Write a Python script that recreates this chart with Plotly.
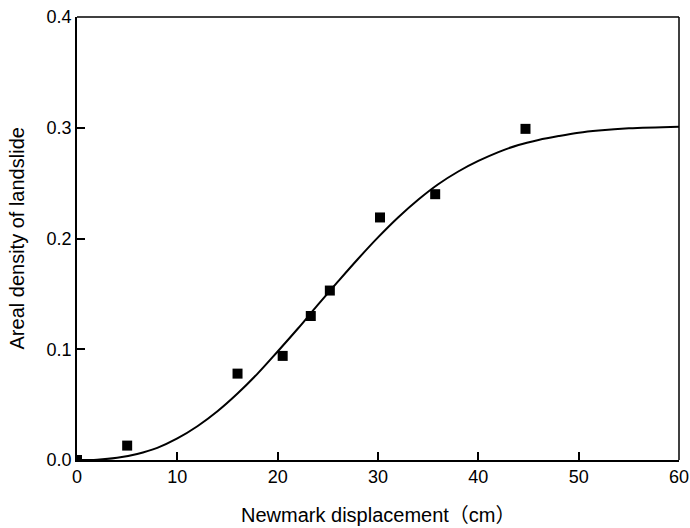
import plotly.graph_objects as go

# Observed data points
obs_x = [0, 5, 16, 20.5, 23.3, 25.2, 30.2, 35.7, 44.7]
obs_y = [0.0, 0.013, 0.078, 0.094, 0.130, 0.153, 0.219, 0.240, 0.299]

# Fitted curve
fit_x = [0, 2, 4, 6, 8, 10, 12, 14, 16, 18, 20, 22, 24, 26, 28, 30, 32, 34, 36, 38,
         40, 42, 44, 46, 48, 50, 52, 55, 60]
fit_y = [0.0, 0.0003, 0.002, 0.0055, 0.011, 0.0195, 0.0305, 0.044, 0.060, 0.078, 0.098,
         0.1185, 0.140, 0.161, 0.1815, 0.201, 0.219, 0.235, 0.249, 0.2605, 0.270, 0.278,
         0.2845, 0.289, 0.2925, 0.2955, 0.2975, 0.2995, 0.301]

x_title = "Newmark displacement（cm）"
y_title = "Areal density of landslide"

fig = go.Figure()
fig.add_trace(go.Scatter(x=fit_x, y=fit_y, mode="lines",
                         line=dict(color="black", width=2, shape="spline", smoothing=1),
                         showlegend=False))
fig.add_trace(go.Scatter(x=obs_x, y=obs_y, mode="markers",
                         marker=dict(symbol="square", size=10, color="black"),
                         showlegend=False))

font_family = "Liberation Sans, Arial, sans-serif"
title_family = "Liberation Sans, Arial, Noto Sans CJK SC, sans-serif"

fig.update_xaxes(range=[0, 60], showline=True, linecolor="#000000", linewidth=1.5,
                 ticks="inside", ticklen=8, tickwidth=1.5, tickcolor="#000000",
                 showgrid=False, zeroline=False, automargin=False,
                 tickmode="linear", tick0=0, dtick=10,
                 tickfont=dict(family=font_family, size=18, color="#000000"))
fig.update_yaxes(range=[0, 0.4], showline=True, linecolor="#000000", linewidth=1.5,
                 ticks="inside", ticklen=8, tickwidth=1.5, tickcolor="#000000",
                 showgrid=False, zeroline=False, automargin=False,
                 tickmode="linear", tick0=0, dtick=0.1, tickformat=".1f",
                 tickfont=dict(family=font_family, size=18, color="#000000"))

# top and right frame lines
fig.add_shape(type="line", xref="paper", yref="paper", x0=0, x1=1, y0=1, y1=1,
              line=dict(color="#000000", width=1.5))
fig.add_shape(type="line", xref="paper", yref="paper", x0=1, x1=1, y0=0, y1=1,
              line=dict(color="#000000", width=1.5))

# axis titles
fig.add_annotation(text=x_title, xref="paper", yref="paper", x=0.5, y=-0.124,
                   xanchor="center", yanchor="middle", showarrow=False,
                   font=dict(family=title_family, size=20, color="#000000"))
fig.add_annotation(text=y_title, xref="paper", yref="paper", x=-0.0997, y=0.5,
                   xanchor="center", yanchor="middle", showarrow=False, textangle=-90,
                   font=dict(family=title_family, size=20, color="#000000"))

fig.update_layout(width=690, height=528,
                  margin=dict(l=77, r=11, t=17, b=68),
                  plot_bgcolor="white", paper_bgcolor="white")

fig.write_html("out.html")
